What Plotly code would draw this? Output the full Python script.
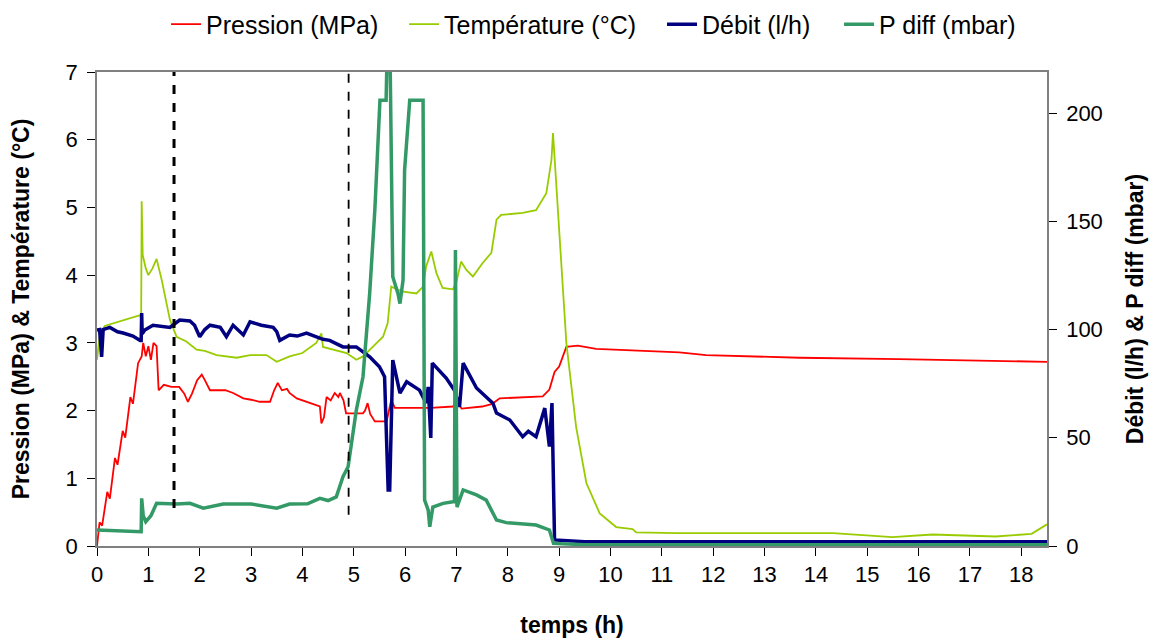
import plotly.graph_objects as go

# Pression (MPa) - left axis
t_pression = [0, 0.05, 0.1, 0.2, 0.25, 0.35, 0.4, 0.5, 0.55, 0.65, 0.7, 0.8, 0.87, 0.9, 0.95, 1.0, 1.05, 1.1, 1.16,
              1.2, 1.3, 1.45, 1.6, 1.7, 1.77, 1.85, 1.95, 2.04, 2.1, 2.2, 2.35, 2.5, 2.65, 2.85, 3.0, 3.17, 3.37,
              3.45, 3.52, 3.6, 3.7, 3.75, 3.89, 4.14, 4.34, 4.37, 4.42, 4.47, 4.55, 4.63, 4.7, 4.73, 4.8, 4.85,
              5.18, 5.22, 5.27, 5.32, 5.41, 5.64, 5.7, 5.73, 5.8, 6.5, 6.93, 7.0, 7.1, 7.5, 7.7, 7.84, 8.68, 8.81,
              8.91, 9.0, 9.14, 9.36, 9.72, 10.95, 11.34, 11.86, 13.68, 15.62, 17.57, 18.5]
pression = [0.0, 0.35, 0.3, 0.8, 0.7, 1.3, 1.2, 1.7, 1.6, 2.2, 2.1, 2.7, 2.8, 3.0, 2.8, 2.95, 2.75, 3.0, 2.95,
            2.3, 2.38, 2.35, 2.35, 2.25, 2.13, 2.25, 2.45, 2.53, 2.45, 2.3, 2.3, 2.3, 2.26, 2.18, 2.16, 2.13, 2.13,
            2.3, 2.41, 2.3, 2.32, 2.26, 2.18, 2.11, 2.06, 1.81, 1.9, 2.2, 2.15, 2.26, 2.2, 2.26, 2.15, 1.96,
            1.96, 2.0, 2.11, 1.95, 1.84, 1.84, 2.05, 2.16, 2.04, 2.04, 2.06, 2.13, 2.03, 2.06, 2.1, 2.18, 2.21, 2.31,
            2.57, 2.65, 2.94, 2.96, 2.91, 2.88, 2.86, 2.82, 2.78, 2.76, 2.73, 2.72]

# Température (°C) - left axis
t_temp = [0, 0.05, 0.15, 0.32, 0.5, 0.7, 0.84, 0.86, 0.87, 0.89, 0.95, 1.0, 1.08, 1.16, 1.26, 1.42, 1.55, 1.74,
          1.94, 2.1, 2.33, 2.72, 2.98, 3.3, 3.5, 3.75, 4.0, 4.27, 4.37, 4.4, 4.6, 4.86, 5.05, 5.18, 5.37, 5.57,
          5.66, 5.73, 5.93, 6.22, 6.35, 6.41, 6.51, 6.61, 6.73, 6.93, 7.0, 7.09, 7.19, 7.32, 7.51, 7.68, 7.78,
          7.87, 8.29, 8.55, 8.75, 8.85, 8.88, 9.14, 9.33, 9.53, 9.79, 10.11, 10.43, 10.5, 11.28, 12.06, 13.03,
          14.33, 15.49, 16.27, 17.5, 18.2, 18.5]
temperature = [2.75, 3.1, 3.25, 3.29, 3.33, 3.38, 3.41, 3.35, 5.09, 4.3, 4.1, 4.0, 4.1, 4.24, 3.93, 3.34, 3.09, 3.02,
               2.9, 2.88, 2.82, 2.78, 2.82, 2.82, 2.72, 2.8, 2.85, 3.0, 3.14, 2.94, 2.9, 2.85, 2.75, 2.8, 2.94, 3.09,
               3.29, 3.83, 3.76, 3.73, 3.83, 4.13, 4.35, 4.03, 3.81, 3.79, 3.9, 4.2, 4.08, 3.98, 4.18, 4.33, 4.82,
               4.89, 4.92, 4.96, 5.21, 5.7, 6.1, 3.0, 1.76, 0.93, 0.48, 0.28, 0.25, 0.2, 0.19, 0.19, 0.18,
               0.19, 0.13, 0.17, 0.14, 0.18, 0.32]

# Débit (l/h) - right axis
t_debit = [0, 0.05, 0.09, 0.12, 0.25, 0.4, 0.51, 0.7, 0.84, 0.86, 0.87, 0.88, 0.93, 1.09, 1.42, 1.61, 1.81, 1.9,
           2.0, 2.1, 2.2, 2.4, 2.52, 2.6, 2.65, 2.85, 2.98, 3.2, 3.43, 3.5, 3.56, 3.75, 3.9, 4.08, 4.27, 4.4,
           4.53, 4.79, 5.05, 5.31, 5.5, 5.6, 5.67, 5.7, 5.76, 5.9, 6.03, 6.28, 6.41, 6.45, 6.5, 6.53, 6.8, 6.96,
           7.06, 7.13, 7.39, 7.71, 7.78, 8.04, 8.29, 8.4, 8.55, 8.72, 8.81, 8.86, 8.91, 9.5, 12, 15, 18.5]
debit = [99.8, 100, 87.4, 100, 101, 99, 98.4, 97, 95, 95, 107.6, 98, 99.8, 102, 101, 104.4, 104, 102,
         96.7, 100, 102, 101, 96.7, 100, 102, 97.5, 103.6, 102, 101, 99, 95, 97.5, 97, 98.4, 96.7, 95.5,
         95, 92, 92, 87.4, 82.8, 78.2, 25.9, 25.9, 85.9, 70.6, 75.9, 72, 66, 73.5, 49.9, 84.5, 77.6, 72,
         64.3, 84.5, 73, 66, 61.4, 58.2, 50.5, 53, 50.5, 63.7, 45.9, 66, 2.8, 2, 2, 2, 2]

# P diff (mbar) - right axis
t_pdiff = [0, 0.5, 0.84, 0.86, 0.87, 0.9, 0.95, 1.05, 1.16, 1.55, 1.81, 2.07, 2.46, 3.0, 3.5, 3.75, 4.1, 4.34,
           4.5, 4.66, 4.79, 4.89, 5.05, 5.18, 5.31, 5.41, 5.51, 5.63, 5.66, 5.7, 5.76, 5.86, 5.9, 5.96, 5.99,
           6.09, 6.35, 6.38, 6.45, 6.48, 6.54, 6.74, 6.93, 6.96, 6.98, 7.01, 7.13, 7.39, 7.58, 7.78, 7.97,
           8.55, 8.81, 8.89, 9.5, 18.5]
pdiff = [7.4, 7, 6.6, 6.6, 22, 14, 11.2, 14, 19.7, 19.4, 19.7, 17.5, 19.4, 19.4, 17.5, 19.4, 19.5, 22,
         21, 22.7, 32, 36.6, 62.8, 78.2, 116.7, 155, 206, 206, 240, 240, 124.4, 116.7, 112, 122.9, 173.7,
         206, 206, 21.2, 16.6, 8.9, 18, 19.7, 20.4, 20.4, 136.7, 18, 25.9, 23.6, 21.2, 12, 10.8,
         9.7, 7.4, 1.2, 0.6, 0.6]

x_ticks = list(range(0, 19))
y2_ticks = [0, 50, 100, 150, 200]

fig = go.Figure()
fig.add_trace(go.Scatter(x=t_pression, y=pression, name='Pression (MPa)', mode='lines', legend='legend',
                         line=dict(color='#FF0000', width=1.8)))
fig.add_trace(go.Scatter(x=t_temp, y=temperature, name='Température (°C)', mode='lines', legend='legend2',
                         line=dict(color='#99CC00', width=1.8)))
fig.add_trace(go.Scatter(x=t_debit, y=debit, name='Débit (l/h)', mode='lines', yaxis='y2', legend='legend3',
                         line=dict(color='#000080', width=3.5)))
fig.add_trace(go.Scatter(x=t_pdiff, y=pdiff, name='P diff (mbar)', mode='lines', yaxis='y2', legend='legend4',
                         line=dict(color='#339966', width=3.5)))

# vertical dashed markers
fig.add_shape(type='line', xref='x', yref='y', x0=1.5, x1=1.5, y0=0.56, y1=7.1,
              line=dict(color='black', width=3, dash='dash'))
fig.add_shape(type='line', xref='x', yref='y', x0=4.9, x1=4.9, y0=0.46, y1=7.0,
              line=dict(color='black', width=1.8, dash='dash'))


def leg(x):
    # one legend per series so the gaps between entries match the original
    return dict(orientation='h', xref='container', yref='container', x=x, xanchor='left',
                y=0.974, yanchor='middle', font=dict(size=25), bgcolor='rgba(0,0,0,0)')


# page has an 8px body margin, so the figure is drawn 8px smaller
font = 'Liberation Sans, Arial, sans-serif'
fig.update_layout(
    width=1152, height=633,
    plot_bgcolor='white', paper_bgcolor='white',
    margin=dict(l=89, r=113, t=64, b=95, autoexpand=False),
    font=dict(family=font, size=22, color='black'),
    showlegend=True,
    legend=leg(0.1372), legend2=leg(0.3438), legend3=leg(0.5677), legend4=leg(0.7214),
    xaxis=dict(range=[0, 18.5], tickvals=x_ticks, ticks='outside', ticklen=8, tickcolor='black',
               showline=True, linecolor='#808080', linewidth=1.5, mirror=True, showgrid=False, zeroline=False,
               automargin=False,
               title=dict(text='<b>temps (h)</b>', font=dict(size=23), standoff=31)),
    yaxis=dict(range=[0, 7], dtick=1, ticks='outside', ticklen=8, tickcolor='black', ticklabelstandoff=5,
               showline=True, linecolor='#808080', linewidth=1.5, showgrid=False, zeroline=False,
               automargin=False,
               title=dict(text='<b>Pression (MPa) & Température (°C)</b>', font=dict(size=23), standoff=31)),
    yaxis2=dict(range=[0, 219], tickvals=y2_ticks, ticks='outside', ticklen=8, tickcolor='black',
                ticklabelstandoff=5,
                overlaying='y', side='right', showline=True, linecolor='#808080', linewidth=1.5,
                showgrid=False, zeroline=False, automargin=False,
                title=dict(text='<b>Débit (l/h) & P diff (mbar)</b>', font=dict(size=23), standoff=25)),
)

fig.write_html("out.html")
